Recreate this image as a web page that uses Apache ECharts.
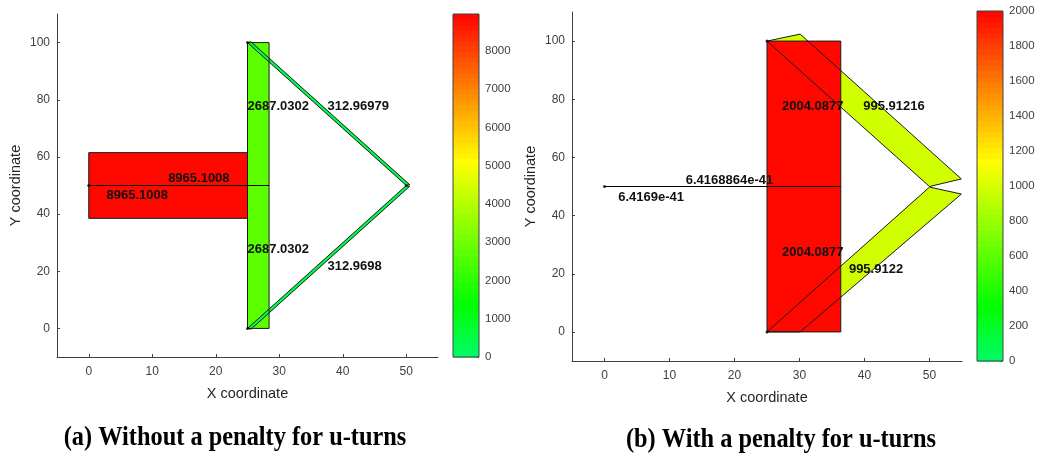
<!DOCTYPE html>
<html><head><meta charset="utf-8">
<script src="https://cdn.jsdelivr.net/npm/echarts@6/dist/echarts.min.js"></script>
<style>html,body{margin:0;padding:0;background:#fff}#c{width:1040px;height:458px}</style>
</head><body><div id="c"></div>
<script>
// ================= DATA =================
const xTicks = [0, 10, 20, 30, 40, 50];
const yTicks = [0, 20, 40, 60, 80, 100];
const titleA = '(a) Without a penalty for u-turns';
const titleB = '(b) With a penalty for u-turns';

// Plot (a): member polygons (data units) and member values
const aMemberValues = [8965.1008, 2687.0302, 312.96979, 312.9698];
const aMemberPolys = [
  [[0, 38.5], [25, 38.5], [25, 61.5], [0, 61.5]],
  [[25, 0], [28.4, 0], [28.4, 100], [25, 100]],
  [[25, 100], [25.55, 100.27], [50.55, 50.27], [50, 50]],
  [[25, 0], [25.55, -0.27], [50.55, 49.73], [50, 50]]
];
const aLines = [[[0, 50], [28.4, 50]]];
const aNodes = [[0, 50], [25, 100], [25, 0], [50, 50]];
const aLabelText = ['8965.1008', '8965.1008', '2687.0302', '2687.0302', '312.96979', '312.9698'];
const aLabelPos = [[12.5, 52.4], [2.8, 46.6], [25, 77.6], [25, 27.7], [37.6, 77.6], [37.6, 21.7]];
const aColorMax = 8965.1008;
const aColorTicks = [0, 1000, 2000, 3000, 4000, 5000, 6000, 7000, 8000];

// Plot (b)
const bMemberValues = [995.91216, 995.9122, 2004.0877];
const bMemberPolys = [
  [[25, 100], [30.1, 102.4], [54.9, 52.6], [50, 50]],
  [[25, 0], [30.1, 0], [54.9, 47.4], [50, 49.8]],
  [[25, 0], [36.35, 0], [36.35, 100], [25, 100]]
];
const bLines = [[[0, 50], [36.35, 50]]];
const bNodes = [[0, 50], [25, 100], [25, 0]];
const bLabelText = ['6.4168864e-41', '6.4169e-41', '2004.0877', '2004.0877', '995.91216', '995.9122'];
const bLabelPos = [[12.5, 52.2], [2.1, 46.3], [27.3, 77.5], [27.3, 27.5], [39.8, 77.5], [37.6, 21.5]];
const bColorMax = 2000;
const bColorTicks = [0, 200, 400, 600, 800, 1000, 1200, 1400, 1600, 1800, 2000];

// ================= STYLE =================
const FONT = '"Liberation Sans", Arial, sans-serif';
const AX = '#404040';
const LEVELS = 64;
const STOPS = [[0, [0, 250, 100]], [0.15, [0, 255, 0]], [0.57, [255, 255, 0]], [1, [255, 8, 0]]];
function cmap(t) {
  t = Math.max(0, Math.min(1, t));
  const k = Math.min(LEVELS - 1, Math.floor(t * LEVELS));
  const q = k / (LEVELS - 1);
  for (let i = 1; i < STOPS.length; i++) {
    if (q <= STOPS[i][0]) {
      const a = STOPS[i - 1], b = STOPS[i];
      const f = (q - a[0]) / (b[0] - a[0]);
      const c = a[1].map((v, j) => Math.round(v + (b[1][j] - v) * f));
      return 'rgb(' + c.join(',') + ')';
    }
  }
  return 'rgb(255,8,0)';
}

const chart = echarts.init(document.getElementById('c'), null, {renderer: 'canvas'});

function plotXAxis(gi) {
  return {
    type: 'value', gridIndex: gi, min: -5, max: 55,
    axisLine: {show: true, onZero: false, lineStyle: {color: AX, width: 1}},
    axisTick: {show: true, inside: true, length: 3, customValues: xTicks, lineStyle: {color: AX}},
    axisLabel: {customValues: xTicks, color: AX, fontSize: 12, fontFamily: FONT, margin: 9},
    splitLine: {show: false},
    name: 'X coordinate', nameLocation: 'middle', nameGap: 29,
    nameTextStyle: {fontSize: 14.5, color: '#262626', fontFamily: FONT}
  };
}
function plotYAxis(gi) {
  return {
    type: 'value', gridIndex: gi, min: -10, max: 110,
    axisLine: {show: true, onZero: false, lineStyle: {color: AX, width: 1}},
    axisTick: {show: true, inside: true, length: 3, customValues: yTicks, lineStyle: {color: AX}},
    axisLabel: {customValues: yTicks, color: AX, fontSize: 12, fontFamily: FONT, margin: 7},
    splitLine: {show: false},
    name: 'Y coordinate', nameLocation: 'middle', nameGap: 34, nameRotate: 90,
    nameTextStyle: {fontSize: 14.5, color: '#262626', fontFamily: FONT}
  };
}
function cbXAxis(gi) {
  return {type: 'value', gridIndex: gi, min: 0, max: 1, show: false};
}
function cbYAxis(gi, max, ticks) {
  return {
    type: 'value', gridIndex: gi, min: 0, max: max, position: 'right',
    axisLine: {show: false, onZero: false},
    axisTick: {show: true, inside: true, length: 3, customValues: ticks, lineStyle: {color: AX}},
    axisLabel: {customValues: ticks, color: AX, fontSize: 11.5, fontFamily: FONT, margin: 6,
      formatter: v => String(v)},
    splitLine: {show: false}
  };
}

function polySeries(ai, polys, values, cmax, mode) {
  return {
    type: 'custom', xAxisIndex: ai, yAxisIndex: ai, clip: true,
    data: polys.map((p, i) => [p[0][0], p[0][1], i]),
    encode: {x: 0, y: 1},
    silent: true,
    renderItem: function (params, api) {
      const i = params.dataIndex;
      const pts = polys[i].map(p => api.coord(p));
      if (mode === 'fill') {
        return {type: 'polygon', shape: {points: pts}, style: {fill: cmap(values[i] / cmax), stroke: null}};
      }
      return {type: 'polygon', shape: {points: pts}, style: {fill: 'none', stroke: '#1a1a1a', lineWidth: 1}};
    }
  };
}
function lineSeries(ai, lines) {
  return lines.map(l => ({
    type: 'line', xAxisIndex: ai, yAxisIndex: ai, data: l, symbol: 'none', silent: true,
    lineStyle: {color: '#000', width: 1}, animation: false
  }));
}
function nodeSeries(ai, nodes) {
  return {
    type: 'scatter', xAxisIndex: ai, yAxisIndex: ai, data: nodes, symbolSize: 3, silent: true,
    itemStyle: {color: '#000'}
  };
}
function labelSeries(ai, texts, pos) {
  return {
    type: 'custom', xAxisIndex: ai, yAxisIndex: ai, silent: true,
    data: pos.map((p, i) => [p[0], p[1], i]),
    encode: {x: 0, y: 1},
    renderItem: function (params, api) {
      const c = api.coord([api.value(0), api.value(1)]);
      return {type: 'text', x: c[0], y: c[1],
        style: {text: texts[params.dataIndex], font: 'bold 13px ' + FONT, fill: '#111',
          textAlign: 'left', textVerticalAlign: 'middle'}};
    }
  };
}
function colorbarSeries(ai, cmax) {
  const cells = [];
  for (let k = 0; k < LEVELS; k++) cells.push([0, (k + 0.5) * cmax / LEVELS, k]);
  return [{
    type: 'custom', xAxisIndex: ai, yAxisIndex: ai, silent: true,
    data: cells, encode: {x: 0, y: 1},
    renderItem: function (params, api) {
      const k = api.value(2);
      const p0 = api.coord([0, k * cmax / LEVELS]);
      const p1 = api.coord([1, (k + 1) * cmax / LEVELS]);
      return {type: 'rect', shape: {x: p0[0], y: p1[1], width: p1[0] - p0[0], height: p0[1] - p1[1] + 0.6},
        style: {fill: cmap((k + 0.5) / LEVELS)}};
    }
  }, {
    type: 'custom', xAxisIndex: ai, yAxisIndex: ai, silent: true,
    data: [[0, 0]], encode: {x: 0, y: 1}, z: 5,
    renderItem: function (params, api) {
      const p0 = api.coord([0, 0]);
      const p1 = api.coord([1, cmax]);
      return {type: 'rect', shape: {x: p0[0], y: p1[1], width: p1[0] - p0[0], height: p0[1] - p1[1]},
        style: {fill: 'none', stroke: AX, lineWidth: 1}};
    }
  }];
}

const TFONT = 'bold 28px "Liberation Serif", "Times New Roman", serif';
const option = {
  animation: false,
  backgroundColor: '#fff',
  grid: [
    {left: 57, top: 14, width: 381, height: 343, outerBoundsMode: 'none'},
    {left: 453, top: 14, width: 26, height: 343, outerBoundsMode: 'none'},
    {left: 572, top: 12, width: 390, height: 349, outerBoundsMode: 'none'},
    {left: 977, top: 11, width: 26, height: 350, outerBoundsMode: 'none'}
  ],
  xAxis: [plotXAxis(0), cbXAxis(1), plotXAxis(2), cbXAxis(3)],
  yAxis: [plotYAxis(0), cbYAxis(1, aColorMax, aColorTicks), plotYAxis(2), cbYAxis(3, bColorMax, bColorTicks)],
  series: [].concat(
    [polySeries(0, aMemberPolys, aMemberValues, aColorMax, 'fill'),
     polySeries(0, aMemberPolys, aMemberValues, aColorMax, 'stroke')],
    lineSeries(0, aLines),
    [nodeSeries(0, aNodes), labelSeries(0, aLabelText, aLabelPos)],
    colorbarSeries(1, aColorMax),
    [polySeries(2, bMemberPolys, bMemberValues, bColorMax, 'fill'),
     polySeries(2, bMemberPolys, bMemberValues, bColorMax, 'stroke')],
    lineSeries(2, bLines),
    [nodeSeries(2, bNodes), labelSeries(2, bLabelText, bLabelPos)],
    colorbarSeries(3, bColorMax)
  ),
  graphic: [
    {type: 'text', x: 235, y: 438, scaleX: 0.87, style: {text: titleA, font: TFONT, fill: '#000', textAlign: 'center', textVerticalAlign: 'middle'}},
    {type: 'text', x: 781, y: 440, scaleX: 0.87, style: {text: titleB, font: TFONT, fill: '#000', textAlign: 'center', textVerticalAlign: 'middle'}}
  ]
};
chart.setOption(option);
</script></body></html>
